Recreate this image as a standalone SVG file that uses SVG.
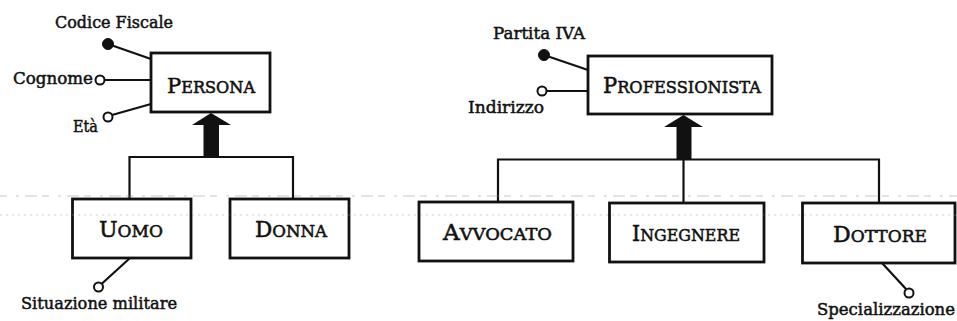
<svg xmlns="http://www.w3.org/2000/svg" width="957" height="321" viewBox="0 0 957 321">
<style>
  .box { fill: #fff; stroke: #111; stroke-width: 2.8; }
  .ln { stroke: #111; stroke-width: 2.2; fill: none; }
  .att { stroke: #111; stroke-width: 2; fill: #fff; }
  .key { fill: #111; stroke: #111; stroke-width: 1; }
  .arrow { fill: #111; stroke: none; }
  .lbl { font-family: "DejaVu Serif", "Liberation Serif", serif; font-size: 16.5px; fill: #111; stroke: #111; stroke-width: 0.5; }
  .ent { font-family: "DejaVu Serif", "Liberation Serif", serif; fill: #111; stroke: #111; stroke-width: 0.55; }
  .scan1 { stroke: #888; stroke-width: 1; stroke-dasharray: 7 9 3 6 12 5; opacity: 0.45; }
  .scan2 { stroke: #999; stroke-width: 1; stroke-dasharray: 2 4; opacity: 0.45; }
</style>

<g id="connectors">
  <!-- Persona hierarchy -->
  <polygon class="arrow" points="211,113 231,125 192,125"/>
  <rect class="arrow" x="203.5" y="124" width="15.5" height="34"/>
  <polyline class="ln" points="129.5,199 129.5,157 293,157 293,199"/>
  <!-- Professionista hierarchy -->
  <polygon class="arrow" points="683.5,115 703,127 664,127"/>
  <rect class="arrow" x="676.5" y="126" width="15" height="34"/>
  <polyline class="ln" points="498,202 498,159.5 879,159.5 879,203"/>
  <line class="ln" x1="683.5" y1="159" x2="683.5" y2="203"/>
  <!-- attribute links -->
  <line class="ln" x1="108" y1="44" x2="151" y2="59"/>
  <line class="ln" x1="104.5" y1="80" x2="151" y2="80"/>
  <line class="ln" x1="112" y1="115" x2="151" y2="104"/>
  <line class="ln" x1="130" y1="258" x2="101.5" y2="284"/>
  <line class="ln" x1="544" y1="55" x2="588" y2="70"/>
  <line class="ln" x1="546.5" y1="91" x2="588" y2="91"/>
  <line class="ln" x1="882" y1="263" x2="906" y2="289"/>
</g>

<g id="persona">
  <rect class="box" x="151" y="53" width="119" height="59"/>
  <text class="ent" x="167" y="93" textLength="88" lengthAdjust="spacingAndGlyphs"><tspan font-size="21">P</tspan><tspan font-size="16">ERSONA</tspan></text>
</g>
<g id="attr-codice-fiscale">
  <circle class="key" cx="108" cy="44" r="5.5"/>
  <text class="lbl" x="55" y="28" textLength="118" lengthAdjust="spacingAndGlyphs">Codice Fiscale</text>
</g>
<g id="attr-cognome">
  <circle class="att" cx="100" cy="80" r="4.5"/>
  <text class="lbl" x="13" y="84" textLength="80" lengthAdjust="spacingAndGlyphs">Cognome</text>
</g>
<g id="attr-eta">
  <circle class="att" cx="108" cy="117" r="4.5"/>
  <text class="lbl" x="73" y="132" textLength="25" lengthAdjust="spacingAndGlyphs">Età</text>
</g>

<g id="uomo">
  <rect class="box" x="72.5" y="199" width="118.5" height="59"/>
  <text class="ent" x="99" y="237" textLength="64" lengthAdjust="spacingAndGlyphs"><tspan font-size="22">U</tspan><tspan font-size="17">OMO</tspan></text>
</g>
<g id="attr-situazione-militare">
  <circle class="att" cx="98.5" cy="287" r="4.5"/>
  <text class="lbl" x="21" y="309" textLength="156" lengthAdjust="spacingAndGlyphs">Situazione militare</text>
</g>
<g id="donna">
  <rect class="box" x="230" y="199" width="119" height="59"/>
  <text class="ent" x="255" y="237" textLength="72" lengthAdjust="spacingAndGlyphs"><tspan font-size="22">D</tspan><tspan font-size="17">ONNA</tspan></text>
</g>

<g id="professionista">
  <rect class="box" x="588" y="56" width="184" height="58"/>
  <text class="ent" x="603" y="93" textLength="158" lengthAdjust="spacingAndGlyphs"><tspan font-size="22">P</tspan><tspan font-size="17">ROFESSIONISTA</tspan></text>
</g>
<g id="attr-partita-iva">
  <circle class="key" cx="544" cy="55" r="5.5"/>
  <text class="lbl" x="493" y="39" textLength="92" lengthAdjust="spacingAndGlyphs">Partita IVA</text>
</g>
<g id="attr-indirizzo">
  <circle class="att" cx="542" cy="91" r="4.5"/>
  <text class="lbl" x="468" y="113" textLength="76" lengthAdjust="spacingAndGlyphs">Indirizzo</text>
</g>

<g id="avvocato">
  <rect class="box" x="419" y="202" width="154" height="59"/>
  <text class="ent" x="443" y="240" textLength="109" lengthAdjust="spacingAndGlyphs"><tspan font-size="22">A</tspan><tspan font-size="17">VVOCATO</tspan></text>
</g>
<g id="ingegnere">
  <rect class="box" x="609.5" y="203" width="154.5" height="59"/>
  <text class="ent" x="632" y="241" textLength="108" lengthAdjust="spacingAndGlyphs"><tspan font-size="22">I</tspan><tspan font-size="17">NGEGNERE</tspan></text>
</g>
<g id="dottore">
  <rect class="box" x="802.5" y="203" width="152.5" height="60"/>
  <text class="ent" x="833" y="242" textLength="94" lengthAdjust="spacingAndGlyphs"><tspan font-size="22">D</tspan><tspan font-size="17">OTTORE</tspan></text>
</g>
<g id="attr-specializzazione">
  <circle class="att" cx="909" cy="293" r="4.5"/>
  <text class="lbl" x="817" y="315" textLength="138" lengthAdjust="spacingAndGlyphs">Specializzazione</text>
</g>

<g id="scan-lines">
  <line class="scan1" x1="0" y1="196" x2="957" y2="196"/>
  <line class="scan2" x1="0" y1="215" x2="957" y2="215"/>
</g>
</svg>
